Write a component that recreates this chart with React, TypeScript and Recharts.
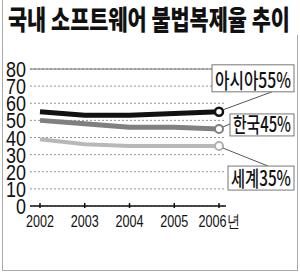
import React from 'react';
import { LineChart, Line, XAxis, YAxis, CartesianGrid, LabelList, ReferenceLine } from 'recharts';

const years = ['2002', '2003', '2004', '2005', '2006년'];
const asia = [55, 53, 53, 54, 55];
const korea = [50, 48, 46, 46, 45];
const world = [39, 36, 35, 35, 35];
const yTicks = [0, 10, 20, 30, 40, 50, 60, 70, 80];
const labels = { asia: '아시아55%', korea: '한국45%', world: '세계35%' };

const data = years.map((year, i) => ({
  year,
  asia: asia[i],
  korea: korea[i],
  world: world[i]
}));

const SANS = '"Liberation Sans", Arial, sans-serif';
const KR = '"Noto Sans CJK KR", "Noto Sans", sans-serif';

// callout box drawn at the last point of a series
function callout(text: string, box: { dx: number; dy: number; w: number; h: number }, lead: [number, number, number, number]) {
  return (props: any) => {
    const { x, y, index } = props;
    if (index !== years.length - 1) return null;
    const bx = x + box.dx;
    const by = y + box.dy;
    return (
      <g>
        <line x1={x + lead[0]} y1={y + lead[1]} x2={x + lead[2]} y2={y + lead[3]} stroke="#555" strokeWidth={1} />
        <rect x={bx} y={by} width={box.w} height={box.h} fill="#fff" stroke="#777" strokeWidth={1} />
        <text
          x={bx + 3}
          y={by + box.h - 4}
          fontFamily={KR}
          fontWeight={500}
          fontSize={21}
          fill="#111"
          textLength={box.w - 6}
          lengthAdjust="spacingAndGlyphs"
        >
          {text}
        </text>
      </g>
    );
  };
}

// condensed tick labels
const XTick = (props: any) => {
  const { x, y, payload } = props;
  const s = String(payload.value);
  const w = s.length > 4 ? 41 : 28;
  return (
    <g>
      <line x1={x} y1={y - 5} x2={x} y2={y} stroke="#111" strokeWidth={1.5} />
      <text
        x={x - w / 2}
        y={y + 19}
        fontFamily={SANS}
        fontSize={16.5}
        fill="#111"
        textLength={w}
        lengthAdjust="spacingAndGlyphs"
      >
        {s}
      </text>
    </g>
  );
};

const YTick = (props: any) => {
  const { x, y, payload } = props;
  const s = String(payload.value);
  const w = s.length * 10;
  return (
    <text
      x={x - w}
      y={y + 8}
      fontFamily={SANS}
      fontSize={22}
      fill="#111"
      textLength={w}
      lengthAdjust="spacingAndGlyphs"
    >
      {s}
    </text>
  );
};

export default function App() {
  return (
    <div style={{ position: 'absolute', left: 0, top: 0, width: 300, height: 272, background: '#fff' }}>
      <svg width={300} height={36} style={{ position: 'absolute', left: 0, top: 0 }}>
        <text
          x={8}
          y={30}
          fontFamily={KR}
          fontWeight={900}
          fontSize={27}
          fill="#111"
          textLength={282}
          lengthAdjust="spacingAndGlyphs"
        >
          국내 소프트웨어 불법복제율 추이
        </text>
      </svg>
      <div style={{ position: 'absolute', left: 2, top: 0, width: 0, height: 270, borderLeft: '1px solid #aaa' }} />
      <div style={{ position: 'absolute', left: 297, top: 35, width: 0, height: 235, borderLeft: '1px solid #aaa' }} />
      <div style={{ position: 'absolute', left: 2, top: 270, width: 296, height: 0, borderTop: '1px solid #aaa' }} />
      <div style={{ position: 'absolute', left: 0, top: 0 }}>
        <LineChart width={300} height={272} data={data} margin={{ top: 69, right: 74, bottom: 36, left: 0 }}>
          <CartesianGrid vertical={false} stroke="#666" strokeDasharray="2 2" strokeWidth={0.7} />
          <ReferenceLine y={80} stroke="#777" strokeWidth={1} />
          <XAxis
            dataKey="year"
            axisLine={{ stroke: '#111', strokeWidth: 1.5 }}
            tickLine={false}
            tickSize={0}
            tick={<XTick />}
            interval={0}
            padding={{ left: 10, right: 7 }}
          />
          <YAxis
            width={30}
            domain={[0, 80]}
            ticks={yTicks}
            interval={0}
            axisLine={false}
            tickLine={false}
            tickSize={0}
            tickMargin={4}
            tick={<YTick />}
          />
          <Line
            dataKey="world"
            stroke="#b8b8b8"
            strokeWidth={4}
            isAnimationActive={false}
            dot={(p: any) =>
              p.index === years.length - 1 ? (
                <circle key="w" cx={p.cx} cy={p.cy} r={4} fill="#fff" stroke="#b0b0b0" strokeWidth={2} />
              ) : (
                <g key={p.index} />
              )
            }
          >
            <LabelList content={callout(labels.world, { dx: 9, dy: 20, w: 66, h: 24 }, [4, 2, 49, 20])} />
          </Line>
          <Line
            dataKey="korea"
            stroke="#808080"
            strokeWidth={5}
            isAnimationActive={false}
            dot={(p: any) =>
              p.index === years.length - 1 ? (
                <circle key="k" cx={p.cx} cy={p.cy} r={4} fill="#fff" stroke="#808080" strokeWidth={2} />
              ) : (
                <g key={p.index} />
              )
            }
          >
            <LabelList content={callout(labels.korea, { dx: 11, dy: -15, w: 64, h: 22 }, [4, -2, 11, -5])} />
          </Line>
          <Line
            dataKey="asia"
            stroke="#111"
            strokeWidth={5}
            isAnimationActive={false}
            dot={(p: any) =>
              p.index === years.length - 1 ? (
                <circle key="a" cx={p.cx} cy={p.cy} r={4} fill="#fff" stroke="#111" strokeWidth={2.5} />
              ) : (
                <g key={p.index} />
              )
            }
          >
            <LabelList content={callout(labels.asia, { dx: -7, dy: -47, w: 82, h: 27 }, [4, -2, 53, -20])} />
          </Line>
        </LineChart>
      </div>
    </div>
  );
}
